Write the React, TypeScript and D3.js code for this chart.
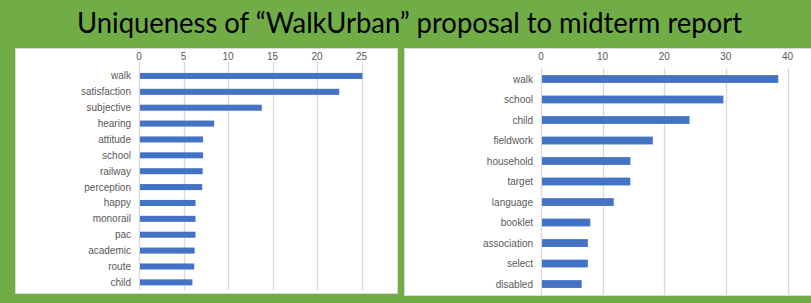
import React, { useEffect, useRef } from 'react';
import * as d3 from 'd3';

// proposal vs midterm report keywords
const leftWords = ['walk', 'satisfaction', 'subjective', 'hearing', 'attitude', 'school', 'railway',
  'perception', 'happy', 'monorail', 'pac', 'academic', 'route', 'child'];
const leftValues = [25.1, 22.5, 13.8, 8.45, 7.2, 7.2, 7.15, 7.1, 6.35, 6.35, 6.35, 6.25, 6.2, 6.0];
const leftTicks = [0, 5, 10, 15, 20, 25];

const rightWords = ['walk', 'school', 'child', 'fieldwork', 'household', 'target', 'language',
  'booklet', 'association', 'select', 'disabled'];
const rightValues = [38.5, 29.6, 24.1, 18.15, 14.5, 14.5, 11.8, 8.0, 7.6, 7.6, 6.6];
const rightTicks = [0, 10, 20, 30, 40];

const W = 811;
const H = 303;
const GREEN = '#70AD47';
const BLUE = '#4472C4';
const GRID = '#D9D9D9';
const TXT = '#595959';

const App = () => {
  const svgRef = useRef(null);

  useEffect(() => {
    const svg = d3.select(svgRef.current);
    svg.selectAll('*').remove();

    svg.append('rect').attr('width', W).attr('height', H).attr('fill', GREEN);

    svg.append('text')
      .attr('x', 77)
      .attr('y', 33)
      .attr('textLength', 665)
      .attr('lengthAdjust', 'spacingAndGlyphs')
      .style('font-family', 'Lato, "Open Sans", sans-serif')
      .style('font-size', '28px')
      .attr('fill', '#000')
      .text('Uniqueness of \u201CWalkUrban\u201D proposal to midterm report');

    const drawPanel = (opts) => {
      const { box, words, values, ticks, xRange, yRange, gridTop, gridBottom } = opts;
      const g = svg.append('g');

      g.append('rect')
        .attr('x', box[0] + 0.5)
        .attr('y', box[1] + 0.5)
        .attr('width', box[2] - box[0] - 1)
        .attr('height', box[3] - box[1] - 1)
        .attr('fill', '#fff')
        .attr('stroke', GRID);

      const x = d3.scaleLinear().domain([0, ticks[ticks.length - 1]]).range(xRange);
      const y = d3.scaleBand().domain(words).range(yRange).paddingInner(0.62).paddingOuter(0.31);

      g.selectAll('.grid')
        .data(ticks)
        .enter()
        .append('line')
        .attr('x1', d => Math.round(x(d)) + 0.5)
        .attr('x2', d => Math.round(x(d)) + 0.5)
        .attr('y1', gridTop)
        .attr('y2', gridBottom)
        .attr('stroke', GRID)
        .attr('stroke-width', 1.3);

      g.selectAll('.tick')
        .data(ticks)
        .enter()
        .append('text')
        .attr('x', d => x(d))
        .attr('y', 60)
        .attr('text-anchor', 'middle')
        .attr('fill', TXT)
        .style('font-family', '"Liberation Sans", Arial, sans-serif')
        .style('font-size', '10px')
        .text(d => d);

      g.selectAll('.bar')
        .data(words)
        .enter()
        .append('rect')
        .attr('x', x(0) + 1)
        .attr('y', d => y(d))
        .attr('width', (d, i) => x(values[i]) - x(0) - 1)
        .attr('height', y.bandwidth())
        .attr('fill', BLUE);

      g.selectAll('.label')
        .data(words)
        .enter()
        .append('text')
        .attr('x', x(0) - 8)
        .attr('y', d => y(d) + y.bandwidth() / 2)
        .attr('dy', '0.35em')
        .attr('text-anchor', 'end')
        .attr('fill', TXT)
        .style('font-family', '"Liberation Sans", Arial, sans-serif')
        .style('font-size', '10px')
        .text(d => d);
    };

    drawPanel({
      box: [15, 48, 398, 294],
      words: leftWords,
      values: leftValues,
      ticks: leftTicks,
      xRange: [139, 361.5],
      yRange: [68, 290.3],
      gridTop: 62,
      gridBottom: 290,
    });

    drawPanel({
      box: [404, 48, 816, 296],
      words: rightWords,
      values: rightValues,
      ticks: rightTicks,
      xRange: [541, 787.5],
      yRange: [68.75, 294.3],
      gridTop: 68,
      gridBottom: 295,
    });
  }, []);

  return (
    <svg
      ref={svgRef}
      width={W}
      height={H}
      style={{ position: 'fixed', left: 0, top: 0, display: 'block' }}
    />
  );
};

export default App;
